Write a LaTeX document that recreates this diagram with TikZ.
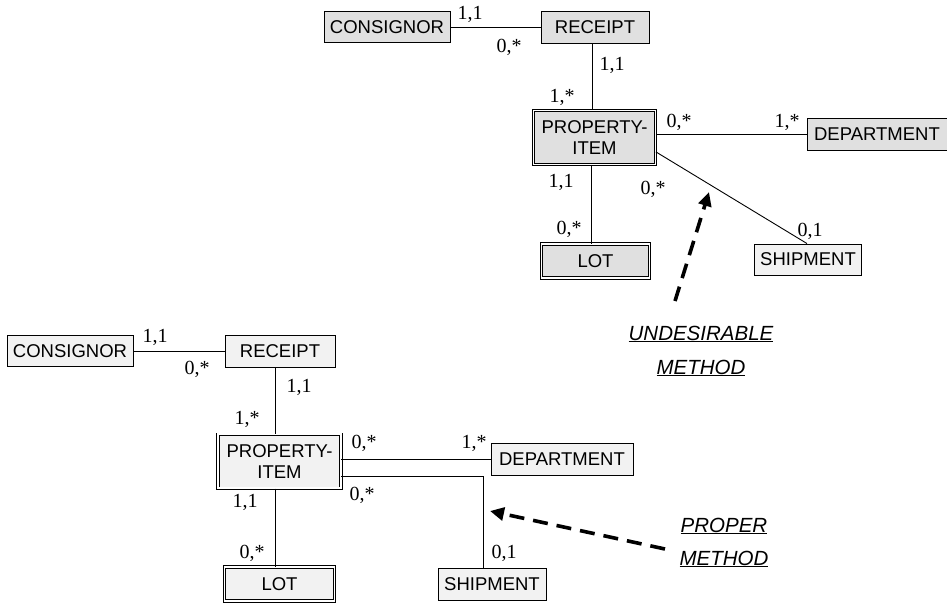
\documentclass[tikz,border=0pt]{standalone}
\usepackage{fontspec}
\setmainfont{Liberation Serif}
\setsansfont{Liberation Sans}
\usetikzlibrary{arrows.meta}
\definecolor{entdark}{gray}{0.88}
\definecolor{entlight}{gray}{0.95}
\tikzset{
  entity/.style={draw, line width=0.9pt, fill=#1, inner sep=0pt, align=center,
    font=\sffamily\fontsize{18.5}{21.5}\selectfont},
  entity/.default=entlight,
  weakentity/.style={entity=#1, double, line width=0.75pt, double distance=1.8pt},
  weakentity/.default=entlight,
  link/.style={line width=0.9pt},
  card/.style={inner sep=0pt, font=\fontsize{20}{22}\selectfont},
  hint/.style={line width=3.6pt, dash pattern=on 15pt off 9pt,
    -{Triangle[length=14pt,width=13pt]}},
  note/.style={inner sep=0pt, font=\sffamily\itshape\fontsize{20.5}{23}\selectfont}
}
\begin{document}
\begin{tikzpicture}[x=1pt,y=-1pt]
\useasboundingbox (0,0) rectangle (947,603);

% ---------- upper schema: shipment tied directly to the item ----------
\node[entity=entdark, minimum width=126pt, minimum height=31pt] (con1) at (387,27) {CONSIGNOR};
\node[entity=entdark, minimum width=108pt, minimum height=32pt] (rec1) at (595,27) {RECEIPT};
\node[weakentity=entdark, minimum width=122pt, minimum height=54pt] (pi1) at (594.5,137.5) {PROPERTY-\\ITEM};
\node[entity=entdark, minimum width=140pt, minimum height=32pt] (dep1) at (877,134) {DEPARTMENT};
\node[weakentity=entdark, minimum width=108pt, minimum height=34pt] (lot1) at (595.5,261) {LOT};
\node[entity=entlight, minimum width=107pt, minimum height=31pt] (shp1) at (808,259.5) {SHIPMENT};

\draw[link] (con1) -- (rec1);
\draw[link] ([xshift=-3pt]rec1.south) -- ([xshift=-3pt]rec1.south |- pi1.north);
\draw[link] (pi1.east |- dep1.west) -- (dep1.west);
\draw[link] ([xshift=-3.5pt]pi1.south) -- ([xshift=-3.5pt]pi1.south |- lot1.north);
\draw[link] ([yshift=13pt]pi1.south east) -- ([xshift=-1pt]shp1.north);

\node[card] (c1a) at (470,14) {1,1};
\node[card] (c1b) at (509,47) {0,*};
\node[card] (c1c) at (612,65) {1,1};
\node[card] (c1d) at (562,97) {1,*};
\node[card] (c1e) at (679,122) {0,*};
\node[card] (c1f) at (787,122) {1,*};
\node[card] (c1g) at (561,182) {1,1};
\node[card] (c1h) at (653,189) {0,*};
\node[card] (c1i) at (569,229) {0,*};
\node[card] (c1j) at (810,231) {0,1};

\coordinate (u0) at (675,301);
\coordinate (u1) at (709,192);
\draw[hint] (u0) -- (u1);
\node[note] (un1) at (701,334) {\underline{UNDESIRABLE}};
\node[note] (un2) at (701,368) {\underline{METHOD}};

% ---------- lower schema: shipment routed through its own path ----------
\node[entity, minimum width=126pt, minimum height=31pt] (con2) at (70,351) {CONSIGNOR};
\node[entity, minimum width=110pt, minimum height=32pt] (rec2) at (280,351) {RECEIPT};
\node[weakentity, minimum width=123pt, minimum height=54pt] (pi2) at (279.5,461.3) {PROPERTY-\\ITEM};
\node[entity, minimum width=142pt, minimum height=32pt] (dep2) at (562,459) {DEPARTMENT};
\node[weakentity, minimum width=110pt, minimum height=34pt] (lot2) at (279.5,584) {LOT};
\node[entity, minimum width=108pt, minimum height=32pt] (shp2) at (492,584) {SHIPMENT};

\draw[link] (con2) -- (rec2);
\draw[link] ([xshift=-4.5pt]rec2.south) -- ([xshift=-4.5pt]rec2.south |- pi2.north);
\draw[link] (pi2.east |- dep2.west) -- (dep2.west);
\draw[link] ([xshift=-4.5pt]pi2.south) -- ([xshift=-4.5pt]pi2.south |- lot2.north);
\draw[link] ([yshift=-15.4pt]pi2.east) -| ([xshift=-8.7pt]shp2.north);

\node[card] (c2a) at (155,337) {1,1};
\node[card] (c2b) at (197,369) {0,*};
\node[card] (c2c) at (299,387) {1,1};
\node[card] (c2d) at (247,419) {1,*};
\node[card] (c2e) at (364,443) {0,*};
\node[card] (c2f) at (474,443) {1,*};
\node[card] (c2g) at (362,495) {0,*};
\node[card] (c2h) at (245,502) {1,1};
\node[card] (c2i) at (252,553) {0,*};
\node[card] (c2j) at (504,553) {0,1};

\coordinate (p0) at (665,549);
\coordinate (p1) at (490,511);
\draw[hint] (p0) -- (p1);
\node[note] (pn1) at (724,526) {\underline{PROPER}};
\node[note] (pn2) at (724,559) {\underline{METHOD}};
\end{tikzpicture}
\end{document}
